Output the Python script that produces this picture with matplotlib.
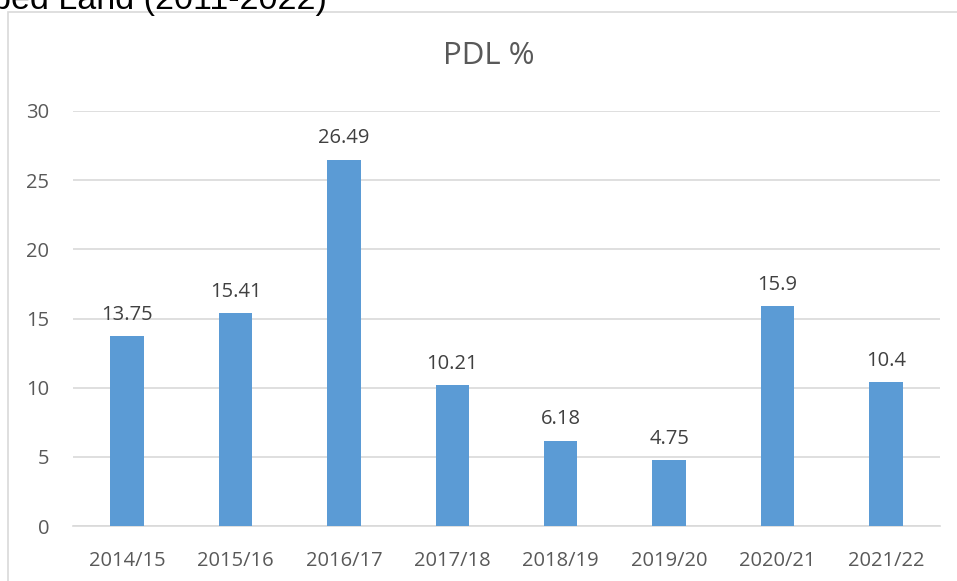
import matplotlib
matplotlib.use("Agg")
import matplotlib.pyplot as plt
from matplotlib.patches import Rectangle

categories = ["2014/15", "2015/16", "2016/17", "2017/18", "2018/19", "2019/20", "2020/21", "2021/22"]
values = [13.75, 15.41, 26.49, 10.21, 6.18, 4.75, 15.9, 10.4]
value_labels = ["13.75", "15.41", "26.49", "10.21", "6.18", "4.75", "15.9", "10.4"]
yticks = [0, 5, 10, 15, 20, 25, 30]

W, H = 957, 581
fig = plt.figure(figsize=(W / 100, H / 100), dpi=100)

# chart frame (partially visible)
fig.patches.append(Rectangle((8 / W, -0.1), 1.2, 1 - 12 / H + 0.1, transform=fig.transFigure,
                             fill=False, edgecolor="#d9d9d9", linewidth=1.2))

# cropped outer heading
fig.text(327 / W, 1 - 9 / H, "Previously Developed Land (2011-2022)", ha="right", va="baseline",
         fontsize=24.5, family="Liberation Sans", color="black")

ax = fig.add_axes([73 / W, 1 - 526 / H, (940 - 73) / W, (526 - 111) / H])
x = range(len(categories))
ax.bar(x, values, width=0.31, color="#5b9bd5", zorder=3)
ax.set_xlim(-0.5, len(categories) - 0.5)
ax.set_ylim(0, 30)
ax.set_yticks(yticks)
ax.set_yticklabels([str(t) for t in yticks])
ax.set_xticks(list(x))
ax.set_xticklabels(categories)
ax.grid(axis="y", color="#d9d9d9", linewidth=1.2, zorder=0)
for s in ["top", "right", "left"]:
    ax.spines[s].set_visible(False)
ax.spines["bottom"].set_color("#d9d9d9")
ax.spines["bottom"].set_linewidth(1.2)
ax.tick_params(length=0, labelsize=14.5, labelcolor="#595959")
ax.tick_params(axis="x", pad=18)
ax.tick_params(axis="y", pad=17)
for lab in ax.get_xticklabels() + ax.get_yticklabels():
    lab.set_family("Open Sans")

for xi, v, t in zip(x, values, value_labels):
    ax.annotate(t, (xi, v), xytext=(0, 8), textcoords="offset points", ha="center", va="bottom",
                fontsize=14.5, color="#404040", family="Open Sans")

fig.text(489 / W, 1 - 56 / H, "PDL %", ha="center", va="center", fontsize=22.5,
         color="#595959", family="Open Sans")

fig.savefig("out.png", dpi=100)
